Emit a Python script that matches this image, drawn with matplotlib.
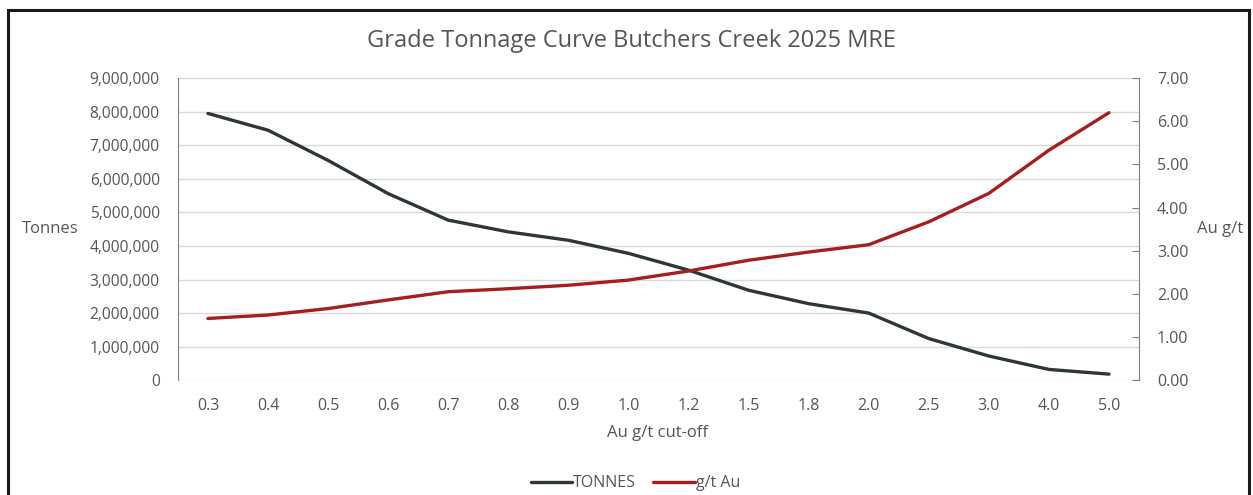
import matplotlib
matplotlib.use("Agg")
import matplotlib.pyplot as plt
from matplotlib.ticker import FuncFormatter, MultipleLocator
from matplotlib.patches import Rectangle

cutoffs = ["0.3", "0.4", "0.5", "0.6", "0.7", "0.8", "0.9", "1.0",
           "1.2", "1.5", "1.8", "2.0", "2.5", "3.0", "4.0", "5.0"]
tonnes = [7950000, 7450000, 6550000, 5560000, 4770000, 4420000, 4170000, 3780000,
          3280000, 2680000, 2280000, 2000000, 1240000, 720000, 320000, 180000]
grade = [1.43, 1.51, 1.66, 1.86, 2.05, 2.12, 2.20, 2.32,
         2.53, 2.78, 2.97, 3.14, 3.67, 4.33, 5.33, 6.20]

plt.rcParams['font.family'] = ['Open Sans', 'DejaVu Sans']
txt = '#555555'

fig = plt.figure(figsize=(12.53, 4.95), dpi=100)
fig.patches.append(Rectangle((0.006, -0.05), 0.991, 1.03, transform=fig.transFigure,
                             fill=False, edgecolor='#1a1a1a', linewidth=2.2, zorder=0))
ax = fig.add_axes([0.142, 0.232, 0.767, 0.610])
ax2 = ax.twinx()

x = list(range(len(cutoffs)))
ln1, = ax.plot(x, tonnes, color='#2e3833', linewidth=2.4, solid_capstyle='round', zorder=3)
ln2, = ax2.plot(x, grade, color='#a51f1f', linewidth=2.4, solid_capstyle='round', zorder=3)

ax.set_xlim(-0.5, len(cutoffs) - 0.5)
ax.set_ylim(0, 9000000)
ax2.set_ylim(0, 7)
ax.yaxis.set_major_locator(MultipleLocator(1000000))
ax2.yaxis.set_major_locator(MultipleLocator(1))
ax.yaxis.set_major_formatter(FuncFormatter(lambda v, p: f"{int(v):,}"))
ax2.yaxis.set_major_formatter(FuncFormatter(lambda v, p: f"{v:.2f}"))
ax.set_xticks(x)
ax.set_xticklabels(cutoffs)

ax.grid(axis='y', color='#d9d9d9', linewidth=1.0)
ax.set_axisbelow(True)
for a in (ax, ax2):
    for s in ('top', 'bottom'):
        a.spines[s].set_visible(False)
ax.spines['right'].set_visible(False)
ax2.spines['left'].set_visible(False)
ax.spines['left'].set_color('#7f7f7f')
ax2.spines['right'].set_color('#7f7f7f')

ax.tick_params(axis='y', length=0, labelsize=11.2, labelcolor=txt, pad=13)
ax.tick_params(axis='x', length=0, labelsize=11.5, labelcolor=txt, pad=13)
ax2.tick_params(axis='y', direction='in', length=5, color='#7f7f7f', labelsize=11.5,
                labelcolor=txt, pad=13)

fig.text(0.504, 0.918, "Grade Tonnage Curve Butchers Creek 2025 MRE", ha='center',
         va='center', fontsize=17, color=txt)
fig.text(0.040, 0.537, "Tonnes", ha='center', va='center', fontsize=12, color=txt)
fig.text(0.974, 0.537, "Au g/t", ha='center', va='center', fontsize=12, color=txt)
fig.text(0.525, 0.125, "Au g/t cut-off", ha='center', va='center', fontsize=12, color=txt)

fig.legend([ln1, ln2], ["TONNES", "g/t Au"], loc='center', bbox_to_anchor=(0.507, 0.024),
           ncol=2, frameon=False, fontsize=11.5, labelcolor=txt, handlelength=2.6,
           handletextpad=0.05, columnspacing=1.1)

fig.savefig("out.png", dpi=100, facecolor='white')
